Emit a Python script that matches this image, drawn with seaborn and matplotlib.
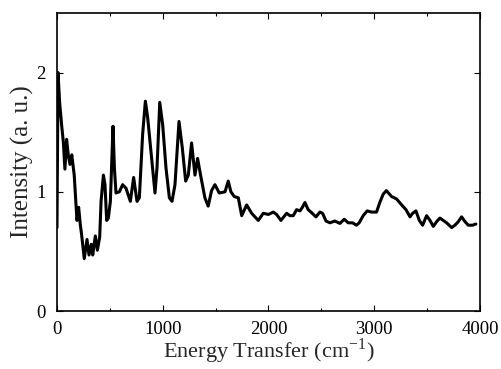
import numpy as np
import pandas as pd
import matplotlib
matplotlib.use("Agg")
import matplotlib.pyplot as plt
import seaborn as sns
from matplotlib.ticker import MultipleLocator

energy = [0, 10, 25, 45, 60, 75, 91, 108, 123, 140, 163, 189, 205, 220, 233, 258,
          284, 303, 325, 338, 363, 382, 404, 417, 439, 454, 470, 486, 505, 530,
          543, 558, 590, 621, 653, 694, 725, 757, 779, 810, 836, 858, 889, 927,
          946, 972, 1000, 1031, 1063, 1088, 1116, 1154, 1185, 1217, 1242, 1273,
          1305, 1330, 1358, 1399, 1430, 1462, 1494, 1535, 1589, 1620, 1645, 1677,
          1715, 1747, 1794, 1841, 1904, 1951, 1999, 2046, 2077, 2118, 2172, 2203,
          2235, 2266, 2298, 2321, 2345, 2376, 2408, 2449, 2487, 2512, 2544, 2581,
          2628, 2676, 2717, 2754, 2795, 2833, 2858, 2896, 2934, 2975, 3022, 3053,
          3085, 3115, 3165, 3212, 3260, 3301, 3339, 3364, 3395, 3427, 3458, 3496,
          3528, 3559, 3591, 3622, 3654, 3685, 3733, 3764, 3796, 3827, 3859, 3890,
          3931, 3962]
intensity = [0.70, 2.00, 1.75, 1.55, 1.42, 1.19, 1.44, 1.30, 1.23, 1.31, 1.14, 0.76,
             0.87, 0.73, 0.64, 0.44, 0.60, 0.47, 0.56, 0.47, 0.63, 0.51, 0.62, 0.92,
             1.14, 1.06, 0.76, 0.78, 0.92, 1.55, 1.20, 0.99, 1.00, 1.06, 1.03, 0.92,
             1.12, 0.92, 0.95, 1.48, 1.76, 1.62, 1.34, 0.99, 1.20, 1.75, 1.56, 1.20,
             0.95, 0.92, 1.06, 1.59, 1.37, 1.09, 1.14, 1.41, 1.14, 1.28, 1.14, 0.95,
             0.88, 1.01, 1.06, 0.99, 1.00, 1.09, 1.00, 0.96, 0.95, 0.80, 0.89, 0.82,
             0.76, 0.82, 0.81, 0.83, 0.81, 0.76, 0.82, 0.80, 0.80, 0.85, 0.84, 0.87,
             0.91, 0.85, 0.825, 0.79, 0.83, 0.82, 0.755, 0.74, 0.755, 0.735, 0.77,
             0.74, 0.74, 0.72, 0.74, 0.80, 0.84, 0.83, 0.83, 0.91, 0.98, 1.01, 0.96,
             0.94, 0.89, 0.85, 0.79, 0.82, 0.84, 0.76, 0.72, 0.80, 0.76, 0.71, 0.75,
             0.78, 0.76, 0.74, 0.70, 0.72, 0.75, 0.79, 0.75, 0.72, 0.72, 0.73]

x_ticks = [0, 1000, 2000, 3000, 4000]
y_ticks = [0, 1, 2]

df = pd.DataFrame({"energy": energy, "intensity": intensity})

sns.set_theme(style="ticks")
plt.rcParams["font.family"] = ["Liberation Serif", "DejaVu Serif"]
plt.rcParams["mathtext.fontset"] = "stix"

fig = plt.figure(figsize=(5.02, 3.69), dpi=100)
ax = fig.add_axes([0.1135, 0.157, 0.8425, 0.808])
sns.lineplot(data=df, x="energy", y="intensity", ax=ax, color="black",
             linewidth=2.2, estimator=None, sort=False)

ax.set_xlim(0, 4000)
ax.set_ylim(0, 2.5)
ax.set_xticks(x_ticks)
ax.set_yticks(y_ticks)
ax.xaxis.set_minor_locator(MultipleLocator(500))
ax.tick_params(which="both", direction="in", top=True, right=True,
               labelsize=13.5, colors="black", width=0.8)
ax.tick_params(which="major", length=4)
ax.tick_params(which="minor", length=2.5)
ax.tick_params(axis="x", pad=7)
ax.tick_params(axis="y", pad=8)
for s in ax.spines.values():
    s.set_linewidth(1.2)
    s.set_color("black")
ax.set_xlabel("Energy Transfer (cm$^{\\mathregular{-1}}$)", fontsize=16, labelpad=-0.5)
ax.set_ylabel("Intensity (a. u.)", fontsize=18, labelpad=2)

fig.savefig("out.png", dpi=100, facecolor="white")
